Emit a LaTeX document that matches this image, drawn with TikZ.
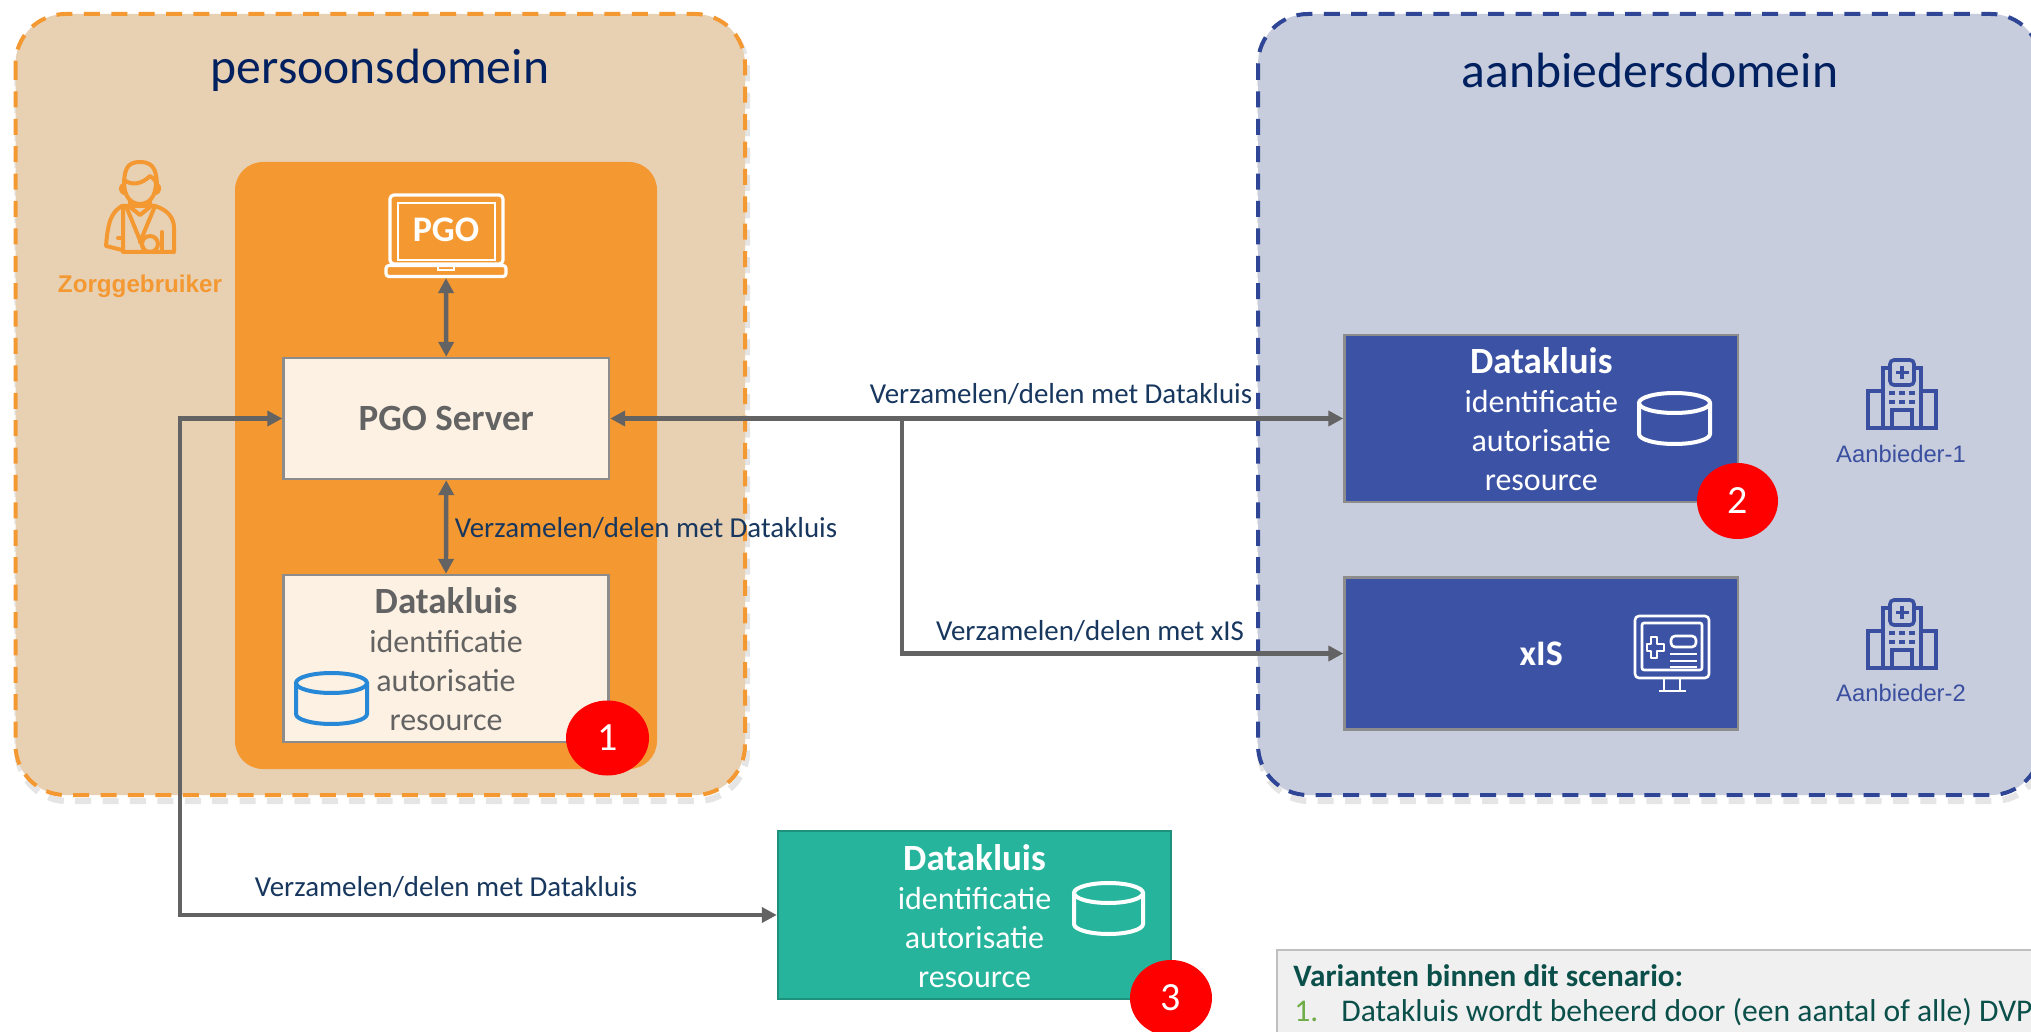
\documentclass[tikz,border=0pt]{standalone}
\usepackage{fontspec}
\setmainfont{Carlito}
\newfontfamily\arialfont{Liberation Sans}
\usetikzlibrary{arrows.meta,shapes.geometric}
\definecolor{tan}{HTML}{E8D0B3}
\definecolor{orangeA}{HTML}{F49832}
\definecolor{cream}{HTML}{FDF1E3}
\definecolor{blueA}{HTML}{3C53A5}
\definecolor{blueB}{HTML}{C7CDDC}
\definecolor{blueC}{HTML}{2F4595}
\definecolor{teal}{HTML}{26B59C}
\definecolor{arrowgrey}{HTML}{636363}
\definecolor{navy}{HTML}{002060}
\definecolor{labelc}{HTML}{17375E}
\definecolor{iconblue}{HTML}{3A4F9F}
\definecolor{varc}{HTML}{0B4F4A}
\definecolor{varnum}{HTML}{70AD47}
\definecolor{redbadge}{HTML}{FF0000}
\definecolor{dbblue}{HTML}{2788D8}
\newcommand{\kluistext}{\fontsize{18.5}{19.5}\selectfont\bfseries\rule{0pt}{14pt}Datakluis\\identificatie\\autorisatie\\resource}
\tikzset{
  x=0.5pt,y=-0.5pt,
  title/.style={font=\fontsize{24.8}{28}\selectfont,text=navy,inner sep=0pt},
  boxnode/.style={draw=gray!90,line width=1.2pt,inner sep=0pt,align=center,
     font=\fontsize{16}{19.5}\selectfont},
  badge/.style={ellipse,fill=redbadge,text=white,inner sep=0pt,font=\fontsize{20}{24}\selectfont},
  flowlabel/.style={text=labelc,font=\fontsize{14.45}{17}\selectfont,inner sep=0pt},
  link/.style={draw=arrowgrey,line width=2.2pt,{Triangle[length=7.5pt,width=7.5pt]}-{Triangle[length=7.5pt,width=7.5pt]}},
  linkend/.style={draw=arrowgrey,line width=2.2pt,-{Triangle[length=7.5pt,width=7.5pt]}},
  provider/.style={text=iconblue,inner sep=0pt,font=\arialfont\fontsize{11.9}{14}\selectfont},
  panelshadow/.style={draw=black,opacity=.10,line width=3.2pt,dash pattern=on 8pt off 5.7pt},
  paneledge/.style={line width=2pt,dash pattern=on 8pt off 5.7pt,rounded corners=25pt},
}
\newcommand{\cyl}[5]{% x1 x2 ytop ybottom colour
  \pgfmathsetmacro{\cxm}{(#1+#2)/2}\pgfmathsetmacro{\crx}{(#2-#1)/2}
  \draw[#5,line width=2pt] (\cxm,#3+10) ellipse [x radius=\crx,y radius=10];
  \draw[#5,line width=2pt,line cap=round] (#1,#3+10) -- (#1,#4-10) arc[start angle=180,end angle=360,x radius=\crx,y radius=-10] -- (#2,#3+10);
}
\newcommand{\hospital}[1]{% top y
  \begin{scope}[shift={(0,#1)},iconblue,line width=1.8pt]
    \draw (1868,68) -- (1868,31) -- (1883,31) -- (1883,68);
    \draw (1936,68) -- (1936,31) -- (1921,31) -- (1921,68);
    \draw (1883,31) -- (1883,8) -- (1889,8);
    \draw (1921,31) -- (1921,8) -- (1915,8);
    \draw[rounded corners=2pt] (1890,0) rectangle (1914,25);
    \draw (1902,6) -- (1902,19) (1895.5,12.5) -- (1908.5,12.5);
    \draw (1866,68) -- (1938,68);
    \draw (1892,68) -- (1892,50) -- (1912,50) -- (1912,68);
    \draw[dash pattern=on 3pt off 2pt] (1889,33) -- (1915,33) (1889,42) -- (1915,42);
  \end{scope}
}
\begin{document}
\begin{tikzpicture}
\useasboundingbox (0,0) rectangle (2031,1032);
\fill[white] (0,0) rectangle (2031,1032);

% panel shadows
\draw[panelshadow,rounded corners=25pt] (17.5,20) rectangle (747,801);
\draw[panelshadow,rounded corners=25pt] (1260,20) rectangle (2043,801);
% panels
\draw[fill=tan,draw=orangeA,paneledge] (15.5,14) rectangle (745,795);
\draw[fill=blueB,draw=blueC,paneledge] (1258,14) rectangle (2041,795);
\fill[orangeA,rounded corners=14pt] (235,162) rectangle (657,769);

\node[title] (t1) at (380,70) {persoonsdomein};
\node[title] (t2) at (1650,70) {aanbiedersdomein};

% person icon
\begin{scope}[orangeA,line width=2pt,line cap=round,line join=round]
  \draw (124,190) .. controls (124,172) and (125,162) .. (140,162) .. controls (155,162) and (157,172) .. (157,190);
  \draw (124,180) .. controls (132,186) and (142,184) .. (150,176) .. controls (153,178) and (155,180) .. (156,182);
  \draw (124,182) .. controls (124,198) and (132,204) .. (140,204) .. controls (148,204) and (156,198) .. (156,182);
  \draw (124,185) .. controls (120,185) and (120,192) .. (124,193);
  \draw (157,185) .. controls (160,185) and (160,192) .. (156,193);
  \draw (130,202) -- (130,207) -- (140,215) -- (150,207) -- (150,202);
  \draw (122,206) -- (155,206) .. controls (168,210) and (174,218) .. (174,228) -- (174,252) -- (123,252) -- (123,206);
  \draw (122,206) .. controls (112,212) and (108,220) .. (106,246) -- (122,250);
  \draw (126,206) -- (144,250);
  \draw (155,206) -- (140,242);
  \draw (162,232) -- (162,252);
  \draw (150,244) circle [radius=8];
  \draw (118,238) -- (122,238);
\end{scope}
\node[text=orangeA,inner sep=0pt,font=\arialfont\bfseries\fontsize{12.1}{14}\selectfont] (zg) at (140,286) {Zorggebruiker};

% laptop
\node[minimum width=56.5pt,minimum height=34.5pt,inner sep=0pt,draw=white,line width=1.6pt,rounded corners=2pt] (laptop) at (446.5,229.5) {};
\draw[white,line width=1.3pt] (398,203) rectangle (495,260);
\node[text=white,inner sep=0pt,font=\bfseries\fontsize{18}{20}\selectfont] (pgolabel) at (446,230) {PGO};
\node[minimum width=60pt,minimum height=5.5pt,inner sep=0pt,draw=white,line width=1.6pt,rounded corners=1.5pt] (laptopbase) at (446,271) {};
\draw[white,line width=1pt] (438,266) -- (438,270) -- (454,270) -- (454,266);

% boxes
\node[boxnode,fill=cream,text=arrowgrey,minimum width=162.75pt,minimum height=60.5pt,font=\bfseries\fontsize{18.5}{20}\selectfont] (server) at (446.25,418.5) {PGO Server};
\node[boxnode,fill=cream,text=arrowgrey,minimum width=162.5pt,minimum height=83.5pt] (kluisA) at (446,658.5) {\kluistext};
\node[boxnode,fill=blueA,text=white,minimum width=196.75pt,minimum height=83.5pt] (kluisB) at (1541.25,418.5) {\kluistext};
\node[boxnode,fill=blueA,text=white,minimum width=196.75pt,minimum height=76pt,font=\bfseries\fontsize{18}{20}\selectfont] (xis) at (1541.25,653.5) {xIS};
\node[boxnode,draw=teal!80!black,fill=teal,text=white,minimum width=196.5pt,minimum height=84pt] (kluisC) at (974.5,915) {\kluistext};

\cyl{296}{367}{673}{724}{draw=dbblue}
\cyl{1639}{1710}{393}{444}{draw=white}
\cyl{1074}{1143}{883}{934}{draw=white}

% monitor icon
\begin{scope}[white,line width=1.3pt,line join=round]
  \draw[rounded corners=2pt] (1635,616) rectangle (1709,678);
  \draw[rounded corners=1pt] (1642,623) rectangle (1702,670);
  \draw (1664,678) -- (1664,690) (1680,678) -- (1680,690) (1659,691) -- (1686,691);
  \draw (1651,637) -- (1657,637) -- (1657,644) -- (1664,644) -- (1664,651) -- (1657,651) -- (1657,658) -- (1651,658) -- (1651,651) -- (1647,651) -- (1647,644) -- (1651,644) -- cycle;
  \draw[rounded corners=2pt] (1671,636) rectangle (1696,647);
  \draw (1670,654) -- (1697,654) (1670,661) -- (1697,661) (1670,667) -- (1697,667);
\end{scope}

% hospitals
\hospital{360}
\hospital{600}
\node[provider] (aan1) at (1901,454) {Aanbieder-1};
\node[provider] (aan2) at (1901,693) {Aanbieder-2};

% connectors
\coordinate (branch) at (902,418.5);
\coordinate (leftbend) at (180,418.5);
\draw[link] (laptopbase.south) -- (server.north);
\draw[link] (server.south) -- (kluisA.north);
\draw[link] (server.east) -- (kluisB.west);
\draw[linkend] (branch) |- (xis.west);
\draw[link] (server.west) -- (leftbend) |- (kluisC.west);

% flow labels
\node[flowlabel] (f1) at (1061,394) {Verzamelen/delen met Datakluis};
\node[flowlabel] (f2) at (646,528) {Verzamelen/delen met Datakluis};
\node[flowlabel] (f3) at (446,887) {Verzamelen/delen met Datakluis};
\node[flowlabel] (f4) at (1090,631) {Verzamelen/delen met xIS};

% badges
\node[badge,minimum width=41.5pt,minimum height=37.5pt] (b1) at (607.5,738) {1};
\node[badge,minimum width=40.5pt,minimum height=38pt] (b2) at (1737.5,501) {2};
\node[badge,minimum width=41pt,minimum height=38pt] (b3) at (1171,998) {3};

% variants panel
\fill[black!6] (1277,950) rectangle (2040,1040);
\draw[black!25,line width=1pt] (1277,1040) -- (1277,950) -- (2040,950);
\node[anchor=base west,text=varc,inner sep=0pt,font=\bfseries\fontsize{15.6}{17}\selectfont] (v0) at (1293,986) {Varianten binnen dit scenario:};
\node[anchor=base west,text=varnum,inner sep=0pt,font=\fontsize{15.8}{17}\selectfont] (v1n) at (1294,1021) {1.};
\node[anchor=base west,text=varc,inner sep=0pt,font=\fontsize{15.8}{17}\selectfont] (v1) at (1341,1021) {Datakluis wordt beheerd door (een aantal of alle) DVP};
\end{tikzpicture}
\end{document}
